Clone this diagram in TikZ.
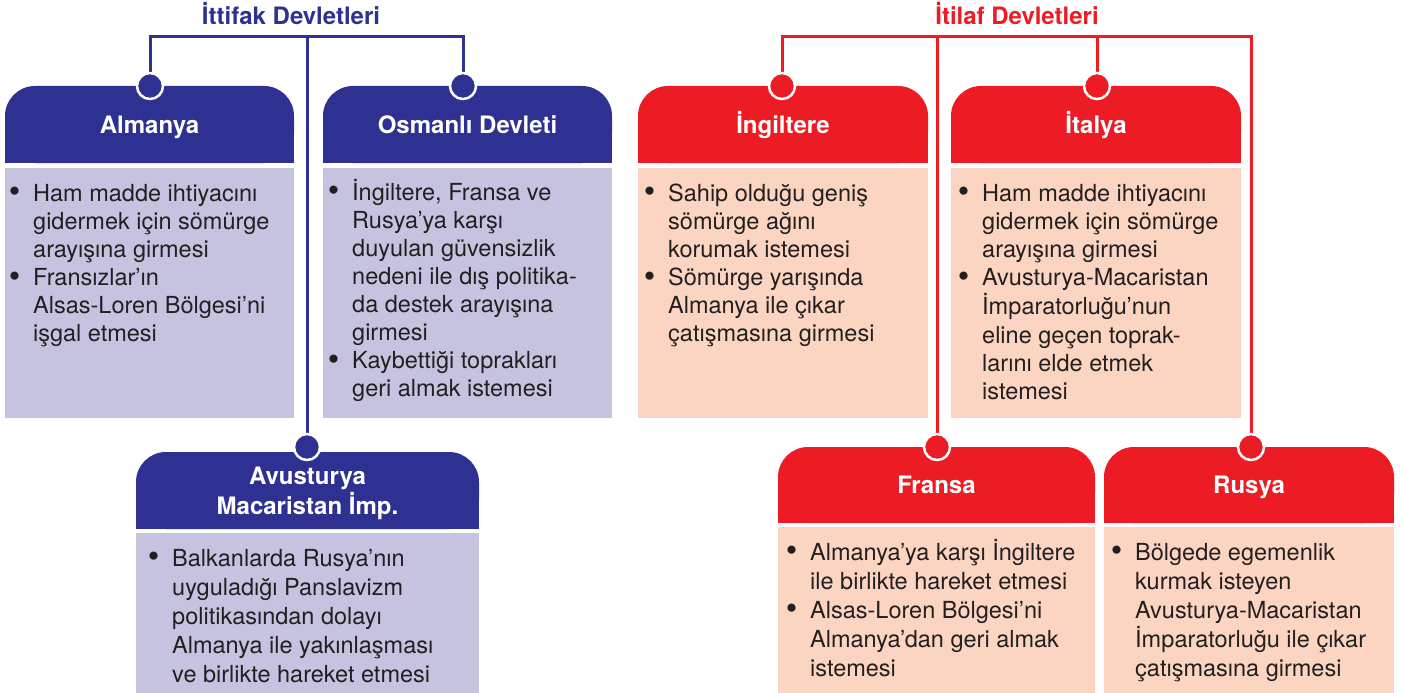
\documentclass[tikz,border=0pt]{standalone}
\usepackage{fontspec}
\usepackage{graphicx}
\setmainfont{TeX Gyre Heros}
\usetikzlibrary{calc}
\definecolor{ittblue}{HTML}{2E3192}
\definecolor{ittbody}{HTML}{C6C3E1}
\definecolor{itlred}{HTML}{ED1C24}
\definecolor{itlbody}{HTML}{FCD4C2}
\definecolor{txtdark}{HTML}{231F20}
\pgfdeclarelayer{bg}
\pgfdeclarelayer{conn}
\pgfsetlayers{bg,conn,main}
\newcommand\bl{\llap{\makebox[8pt]{\raisebox{-1.8pt}{\scalebox{1.4}{•}}}\hspace{14.5pt}}}
\newcommand\bodyfontA{\fontsize{23.5}{28.1}\selectfont}
\newcommand\bodyfontB{\fontsize{23.5}{29}\selectfont}
\begin{document}
\begin{tikzpicture}[x=1pt,y=-1pt,
  hdrshape/.style={inner sep=0pt,outer sep=0pt},
  hdrlbl/.style={text=white,font=\fontsize{24}{28}\selectfont\bfseries,inner sep=0pt,anchor=base},
  bodybox/.style={inner sep=0pt,outer sep=0pt,anchor=north west},
  bodytext/.style={text=txtdark,inner sep=0pt,anchor=base west},
  dotnode/.style={circle,minimum size=26pt,inner sep=0pt,draw=white,line width=2.5pt},
  connL/.style={line width=3pt},
  title/.style={font=\fontsize{24}{28}\selectfont\bfseries,anchor=base,inner sep=0pt}]
\useasboundingbox (0,0) rectangle (1401,693);

% titles
\node[title,text=ittblue] (ittT) at (291,25) {İttifak Devletleri};
\node[title,text=itlred] (itlT) at (1017,25) {İtilaf Devletleri};

% header shapes
\node[hdrshape,minimum width=289,minimum height=77] (alm) at (149.5,124.5) {};
\node[hdrshape,minimum width=289,minimum height=77] (osm) at (467.5,124.5) {};
\node[hdrshape,minimum width=343,minimum height=77] (avu) at (307.5,490.5) {};
\node[hdrshape,minimum width=290,minimum height=77] (ing) at (783,124.5) {};
\node[hdrshape,minimum width=290,minimum height=77] (ita) at (1096,124.5) {};
\node[hdrshape,minimum width=317,minimum height=76] (fra) at (936.5,485) {};
\node[hdrshape,minimum width=290,minimum height=76] (rus) at (1249,485) {};

\begin{pgfonlayer}{bg}
  \foreach \n/\c in {alm/ittblue,osm/ittblue,avu/ittblue,ing/itlred,ita/itlred,fra/itlred,rus/itlred}{
    \fill[\c,rounded corners=30pt] (\n.south west) rectangle (\n.north east);
    \fill[\c] (\n.south west) rectangle (\n.east);
  }
\end{pgfonlayer}

% header labels
\node[hdrlbl] (almL) at (149.5,133) {Almanya};
\node[hdrlbl] (osmL) at (467.5,133) {Osmanlı Devleti};
\node[hdrlbl] (avuL) at (307.5,484) {\begin{tabular}[t]{@{}c@{}}Avusturya\\Macaristan İmp.\end{tabular}};
\node[hdrlbl] (ingL) at (783,133) {İngiltere};
\node[hdrlbl] (itaL) at (1096,133) {İtalya};
\node[hdrlbl] (fraL) at (936.5,493) {Fransa};
\node[hdrlbl] (rusL) at (1249,493) {Rusya};

% body boxes
\node[bodybox,fill=ittbody,minimum width=289,minimum height=250] (almB) at (5,168) {};
\node[bodybox,fill=ittbody,minimum width=289,minimum height=250] (osmB) at (323,168) {};
\node[bodybox,fill=ittbody,minimum width=343,minimum height=160] (avuB) at (136,533) {};
\node[bodybox,fill=itlbody,minimum width=290,minimum height=250] (ingB) at (638,168) {};
\node[bodybox,fill=itlbody,minimum width=290,minimum height=250] (itaB) at (951,168) {};
\node[bodybox,fill=itlbody,minimum width=317,minimum height=166] (fraB) at (778,527) {};
\node[bodybox,fill=itlbody,minimum width=290,minimum height=166] (rusB) at (1104,527) {};

% body texts
\node[bodytext] (almX) at (33,201) {\bodyfontA\begin{tabular}[t]{@{}l@{}}
\bl Ham madde ihtiyacını\\ gidermek için sömürge\\ arayışına girmesi\\
\bl Fransızlar’ın\\ Alsas-Loren Bölgesi’ni\\ işgal etmesi\end{tabular}};
\node[bodytext] (osmX) at (352,200) {\bodyfontA\begin{tabular}[t]{@{}l@{}}
\bl İngiltere, Fransa ve\\ Rusya’ya karşı\\ duyulan güvensizlik\\ nedeni ile dış politika-\\ da destek arayışına\\ girmesi\\
\bl Kaybettiği toprakları\\ geri almak istemesi\end{tabular}};
\node[bodytext] (ingX) at (668,201) {\bodyfontA\begin{tabular}[t]{@{}l@{}}
\bl Sahip olduğu geniş\\ sömürge ağını\\ korumak istemesi\\
\bl Sömürge yarışında\\ Almanya ile çıkar\\ çatışmasına girmesi\end{tabular}};
\node[bodytext] (itaX) at (982,201) {\bodyfontA\begin{tabular}[t]{@{}l@{}}
\bl Ham madde ihtiyacını\\ gidermek için sömürge\\ arayışına girmesi\\
\bl Avusturya-Macaristan\\ İmparatorluğu’nun\\ eline geçen toprak-\\ larını elde etmek\\ istemesi\end{tabular}};
\node[bodytext] (avuX) at (172,566) {\bodyfontB\begin{tabular}[t]{@{}l@{}}
\bl Balkanlarda Rusya’nın\\ uyguladığı Panslavizm\\ politikasından dolayı\\ Almanya ile yakınlaşması\\ ve birlikte hareket etmesi\end{tabular}};
\node[bodytext] (fraX) at (810,560) {\bodyfontB\begin{tabular}[t]{@{}l@{}}
\bl Almanya’ya karşı İngiltere\\ ile birlikte hareket etmesi\\
\bl Alsas-Loren Bölgesi’ni\\ Almanya’dan geri almak\\ istemesi\end{tabular}};
\node[bodytext] (rusX) at (1135,560) {\bodyfontB\begin{tabular}[t]{@{}l@{}}
\bl Bölgede egemenlik\\ kurmak isteyen\\ Avusturya-Macaristan\\ İmparatorluğu ile çıkar\\ çatışmasına girmesi\end{tabular}};

% dots
\node[dotnode,fill=ittblue] (almD) at (150,86) {};
\node[dotnode,fill=ittblue] (osmD) at (463,86) {};
\node[dotnode,fill=ittblue] (avuD) at (307,447) {};
\node[dotnode,fill=itlred] (ingD) at (782,86) {};
\node[dotnode,fill=itlred] (itaD) at (1097,86) {};
\node[dotnode,fill=itlred] (fraD) at (937,447) {};
\node[dotnode,fill=itlred] (rusD) at (1251,447) {};

% connectors
\coordinate (ittJ) at (307,37);
\coordinate (itlJ) at (937,37);
\begin{pgfonlayer}{conn}
  \draw[connL,ittblue] (almD.center) |- (ittJ) -| (osmD.center);
  \draw[connL,ittblue] (ittJ) -- (avuD.center);
  \draw[connL,itlred] (ingD.center) |- (itlJ) -| (rusD.center);
  \draw[connL,itlred] (itlJ) -- (fraD.center);
  \draw[connL,itlred] (itaD.center) -- (itaD.center |- itlJ);
\end{pgfonlayer}
\end{tikzpicture}
\end{document}
